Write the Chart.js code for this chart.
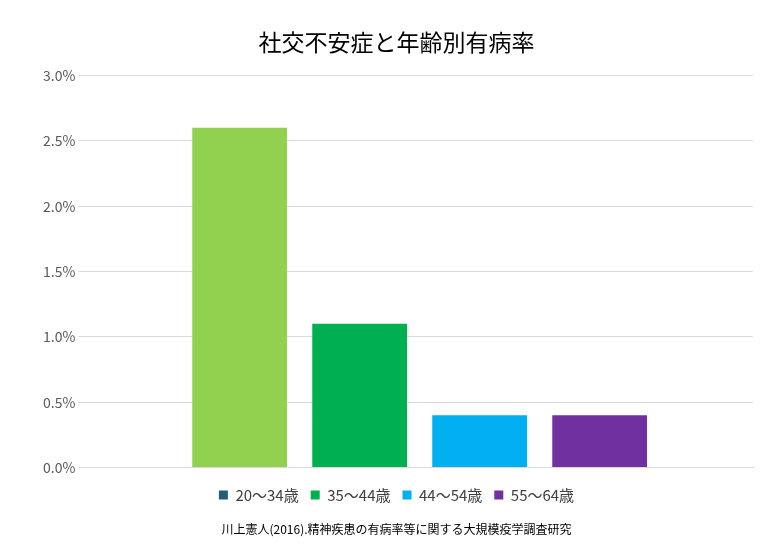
<!DOCTYPE html>
<html><head><meta charset="utf-8">
<script src="https://cdn.jsdelivr.net/npm/chart.js@4/dist/chart.umd.min.js"></script>
<style>html,body{margin:0;background:#fff}#w{width:771px;height:547px}</style>
</head><body><div id="w"><canvas id="c"></canvas></div>
<script>
const categories = [""];
const seriesNames = ["20～34歳","35～44歳","44～54歳","55～64歳"];
const seriesValues = [[2.6],[1.1],[0.4],[0.4]];
const barColors = ["#92d050","#00b050","#00b0f0","#7030a0"];
const legendColors = ["#1f5f7a","#00b050","#00b0f0","#7030a0"];
const F = "'Noto Sans CJK JP','Noto Sans',sans-serif";
Chart.defaults.font.family = F;
new Chart(document.getElementById('c'), {
  type: 'bar',
  data: { labels: categories, datasets: seriesNames.map((n,i)=>({label:n,data:seriesValues[i],backgroundColor:barColors[i]})) },
  options: {
    responsive:true, maintainAspectRatio:false, animation:false,
    layout:{padding:{left:40,right:18,top:14,bottom:8}},
    datasets:{bar:{categoryPercentage:0.72,barPercentage:0.79}},
    scales:{
      x:{grid:{display:false},border:{color:'#d9d9d9'},ticks:{display:false}},
      y:{min:0,max:3,ticks:{stepSize:0.5,color:'#595959',font:{size:14},callback:v=>v.toFixed(1)+'%'},grid:{color:'#d9d9d9'},border:{display:false}}
    },
    plugins:{
      title:{display:true,text:'社交不安症と年齢別有病率',color:'#000',font:{size:23,weight:'normal'},padding:{top:14,bottom:20}},
      legend:{position:'bottom',labels:{boxWidth:9,boxHeight:9,color:'#404040',font:{size:15},padding:12,
        generateLabels:(ch)=>seriesNames.map((n,i)=>({text:n,fillStyle:legendColors[i],strokeStyle:legendColors[i],lineWidth:0,datasetIndex:i,fontColor:'#404040'}))}},
      subtitle:{display:true,position:'bottom',text:'川上憲人(2016).精神疾患の有病率等に関する大規模疫学調査研究',color:'#000',font:{size:12},padding:{top:10,bottom:2}},
      tooltip:{enabled:false}
    }
  }
});
</script></body></html>
